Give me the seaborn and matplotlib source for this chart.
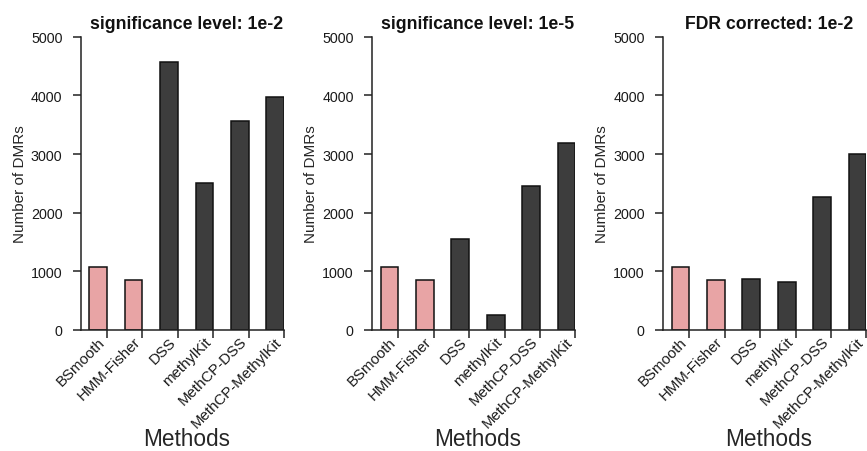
import matplotlib
matplotlib.use("Agg")
import matplotlib.pyplot as plt
import matplotlib.transforms as mtransforms
import seaborn as sns
import pandas as pd
import numpy as np

methods = ["BSmooth", "HMM-Fisher", "DSS", "methylKit", "MethCP-DSS", "MethCP-MethylKit"]
titles = ["significance level: 1e-2", "significance level: 1e-5", "FDR corrected: 1e-2"]
counts_1e2 = [1078, 857, 4570, 2509, 3555, 3964]
counts_1e5 = [1078, 857, 1551, 256, 2449, 3187]
counts_fdr = [1078, 857, 869, 818, 2267, 3000]
bar_colors = ["#E8A4A5", "#E8A4A5", "#3D3D3D", "#3D3D3D", "#3D3D3D", "#3D3D3D"]
y_ticks = [0, 1000, 2000, 3000, 4000, 5000]

sns.set_theme(style="ticks")
plt.rcParams['font.family'] = ['Liberation Sans', 'DejaVu Sans']

W, H = 867, 452
fig = plt.figure(figsize=(W / 100, H / 100), dpi=100)

lefts = [80.5, 371.8, 662.8]
ax_w = 203.5
ax_top = 37.7
ax_bot = 331.0

shift = mtransforms.ScaledTranslation(-4.5 / 100, -9.0 / 100, fig.dpi_scale_trans)

for k, (title, vals) in enumerate(zip(titles, [counts_1e2, counts_1e5, counts_fdr])):
    ax = fig.add_axes([lefts[k] / W, (H - ax_bot) / H, ax_w / W, (ax_bot - ax_top) / H])
    df = pd.DataFrame({"method": methods, "count": vals})
    sns.barplot(data=df, x="method", y="count", hue="method", palette=bar_colors,
                order=methods, width=0.5, edgecolor="#111111", linewidth=1.1,
                legend=False, ax=ax, saturation=1)
    ax.set_xlim(-0.5, 5.25)
    ax.set_ylim(0, 5000)
    ax.set_yticks(y_ticks)
    ax.set_yticklabels([str(t) for t in y_ticks], fontsize=10.3, color="#1a1a1a")
    tick_pos = np.arange(len(methods)) + 0.25
    ax.set_xticks(tick_pos)
    ax.set_xticklabels([""] * len(methods))
    trans = mtransforms.blended_transform_factory(ax.transData, ax.transAxes) + shift
    for xp, name in zip(tick_pos, methods):
        ax.text(xp, 0, name, transform=trans, rotation=45, ha="right", va="center",
                rotation_mode="anchor", fontsize=10.8, color="#1a1a1a", clip_on=False)
    ax.tick_params(axis="both", length=6, width=1.1, color="#222222")
    ax.tick_params(axis="y", pad=7)
    for s in ["top", "right"]:
        ax.spines[s].set_visible(False)
    ax.spines["left"].set_bounds(0, 5000)
    ax.spines["bottom"].set_bounds(-0.5, 5.25)
    for s in ["left", "bottom"]:
        ax.spines[s].set_color("#222222")
        ax.spines[s].set_linewidth(1.1)
    ax.set_xlabel("Methods", fontsize=16.3)
    ax.set_ylabel("Number of DMRs", fontsize=11)
    ax.set_title(title, fontsize=12.7, fontweight="bold", pad=6, color="#111111", x=0.521)
    ax.xaxis.set_label_coords(0.52, -0.33)
    ax.yaxis.set_label_coords(-0.265, 0.5)

fig.savefig("out.png", dpi=100)
